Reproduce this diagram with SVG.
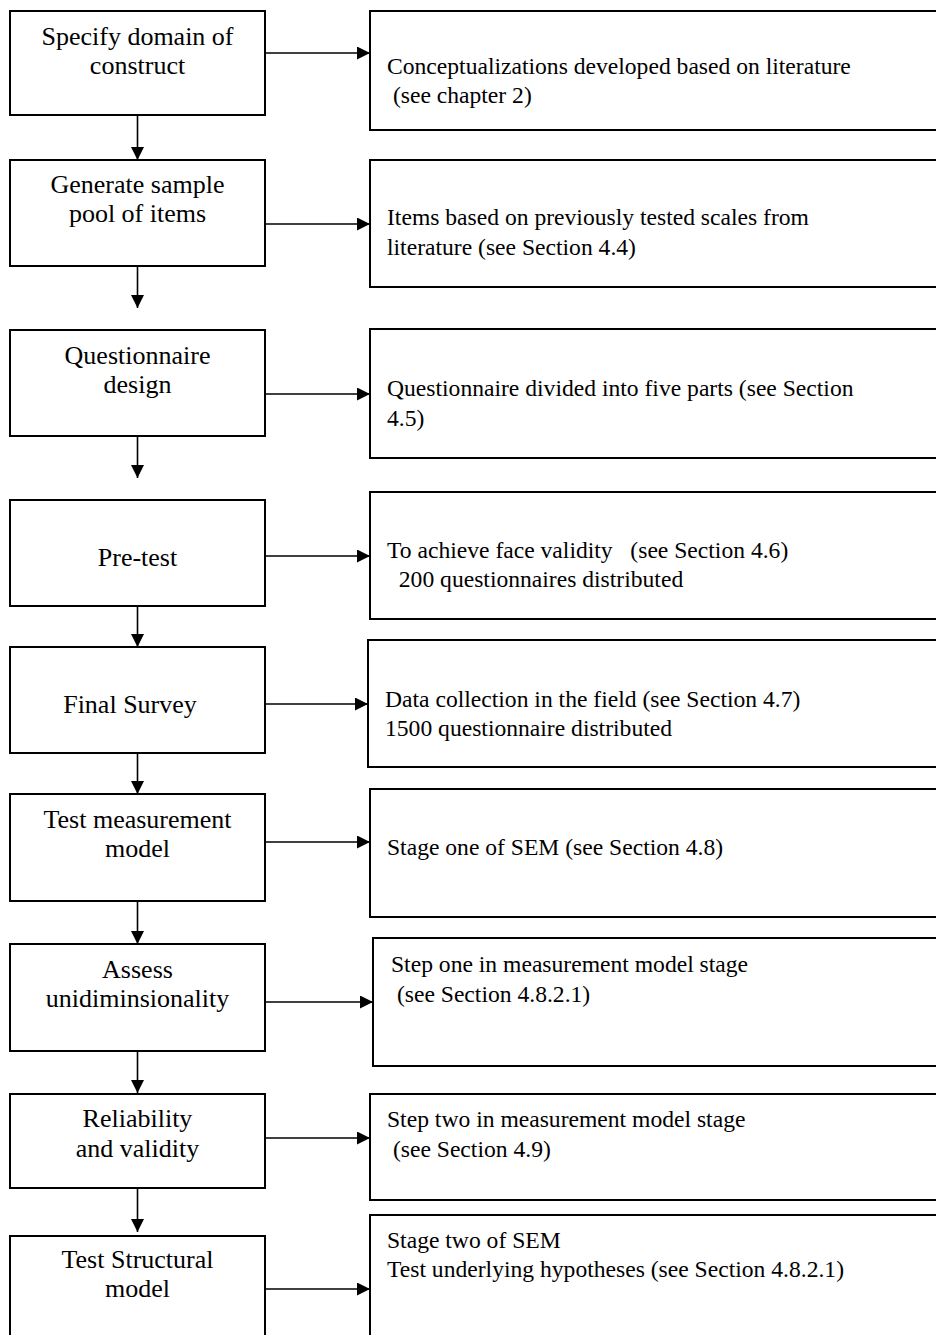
<svg xmlns="http://www.w3.org/2000/svg" width="936" height="1335" viewBox="0 0 936 1335">
<style>
.box{fill:#fff;stroke:#000;stroke-width:2}
.lt{font-family:"Liberation Serif","Times New Roman",serif;font-size:26px;fill:#000;text-anchor:middle}
.rt{font-family:"Liberation Serif","Times New Roman",serif;font-size:23.6px;fill:#000;white-space:pre}
.con{stroke:#000;stroke-width:1.6;fill:none;marker-end:url(#ah)}
</style>
<defs>
<marker id="ah" markerUnits="userSpaceOnUse" markerWidth="14" markerHeight="14" refX="13" refY="6.5" orient="auto">
<path d="M0,0 L13,6.5 L0,13 z" fill="#000"/>
</marker>
</defs>
<rect width="936" height="1335" fill="#fff"/>
<g id="connectors">
<line class="con" x1="137.5" y1="115" x2="137.5" y2="160"/>
<line class="con" x1="137.5" y1="266" x2="137.5" y2="308"/>
<line class="con" x1="137.5" y1="436" x2="137.5" y2="478"/>
<line class="con" x1="137.5" y1="606" x2="137.5" y2="647"/>
<line class="con" x1="137.5" y1="753" x2="137.5" y2="794"/>
<line class="con" x1="137.5" y1="901" x2="137.5" y2="944"/>
<line class="con" x1="137.5" y1="1051" x2="137.5" y2="1093"/>
<line class="con" x1="137.5" y1="1188" x2="137.5" y2="1232"/>
<line class="con" x1="265" y1="53" x2="370" y2="53"/>
<line class="con" x1="265" y1="224" x2="370" y2="224"/>
<line class="con" x1="265" y1="394" x2="370" y2="394"/>
<line class="con" x1="265" y1="556" x2="370" y2="556"/>
<line class="con" x1="265" y1="704" x2="368" y2="704"/>
<line class="con" x1="265" y1="842" x2="370" y2="842"/>
<line class="con" x1="265" y1="1002" x2="373" y2="1002"/>
<line class="con" x1="265" y1="1138" x2="370" y2="1138"/>
<line class="con" x1="265" y1="1289" x2="370" y2="1289"/>
</g>
<g id="n1"><rect class="box" x="10" y="11" width="255" height="104"/><text class="lt" x="137.5" y="45">Specify domain of</text><text class="lt" x="137.5" y="74">construct</text></g>
<g id="n2"><rect class="box" x="10" y="160" width="255" height="106"/><text class="lt" x="137.5" y="193">Generate sample</text><text class="lt" x="137.5" y="222">pool of items</text></g>
<g id="n3"><rect class="box" x="10" y="330" width="255" height="106"/><text class="lt" x="137.5" y="364">Questionnaire</text><text class="lt" x="137.5" y="393">design</text></g>
<g id="n4"><rect class="box" x="10" y="500" width="255" height="106"/><text class="lt" x="137.5" y="566">Pre-test</text></g>
<g id="n5"><rect class="box" x="10" y="647" width="255" height="106"/><text class="lt" x="130" y="713">Final Survey</text></g>
<g id="n6"><rect class="box" x="10" y="794" width="255" height="107"/><text class="lt" x="137.5" y="828">Test measurement</text><text class="lt" x="137.5" y="857">model</text></g>
<g id="n7"><rect class="box" x="10" y="944" width="255" height="107"/><text class="lt" x="137.5" y="978">Assess</text><text class="lt" x="137.5" y="1007">unidiminsionality</text></g>
<g id="n8"><rect class="box" x="10" y="1094" width="255" height="94"/><text class="lt" x="137.5" y="1127">Reliability</text><text class="lt" x="137.5" y="1157">and validity</text></g>
<g id="n9"><rect class="box" x="10" y="1236" width="255" height="110"/><text class="lt" x="137.5" y="1268">Test Structural</text><text class="lt" x="137.5" y="1297">model</text></g>
<g id="r1"><rect class="box" x="370" y="11" width="580" height="119"/><text class="rt" x="387" y="74">Conceptualizations developed based on literature</text><text class="rt" x="387" y="103"> (see chapter 2)</text></g>
<g id="r2"><rect class="box" x="370" y="160" width="580" height="127"/><text class="rt" x="387" y="225">Items based on previously tested scales from</text><text class="rt" x="387" y="255">literature (see Section 4.4)</text></g>
<g id="r3"><rect class="box" x="370" y="329" width="580" height="129"/><text class="rt" x="387" y="396">Questionnaire divided into five parts (see Section</text><text class="rt" x="387" y="426">4.5)</text></g>
<g id="r4"><rect class="box" x="370" y="492" width="580" height="127"/><text class="rt" x="387" y="558">To achieve face validity   (see Section 4.6)</text><text class="rt" x="387" y="587">  200 questionnaires distributed</text></g>
<g id="r5"><rect class="box" x="368" y="640" width="580" height="127"/><text class="rt" x="385" y="707">Data collection in the field (see Section 4.7)</text><text class="rt" x="385" y="736">1500 questionnaire distributed</text></g>
<g id="r6"><rect class="box" x="370" y="789" width="580" height="128"/><text class="rt" x="387" y="855">Stage one of SEM (see Section 4.8)</text></g>
<g id="r7"><rect class="box" x="373" y="938" width="580" height="128"/><text class="rt" x="391" y="972">Step one in measurement model stage</text><text class="rt" x="391" y="1002"> (see Section 4.8.2.1)</text></g>
<g id="r8"><rect class="box" x="370" y="1094" width="580" height="106"/><text class="rt" x="387" y="1127">Step two in measurement model stage</text><text class="rt" x="387" y="1157"> (see Section 4.9)</text></g>
<g id="r9"><rect class="box" x="370" y="1215" width="580" height="130"/><text class="rt" x="387" y="1248">Stage two of SEM</text><text class="rt" x="387" y="1277">Test underlying hypotheses (see Section 4.8.2.1)</text></g>
</svg>
